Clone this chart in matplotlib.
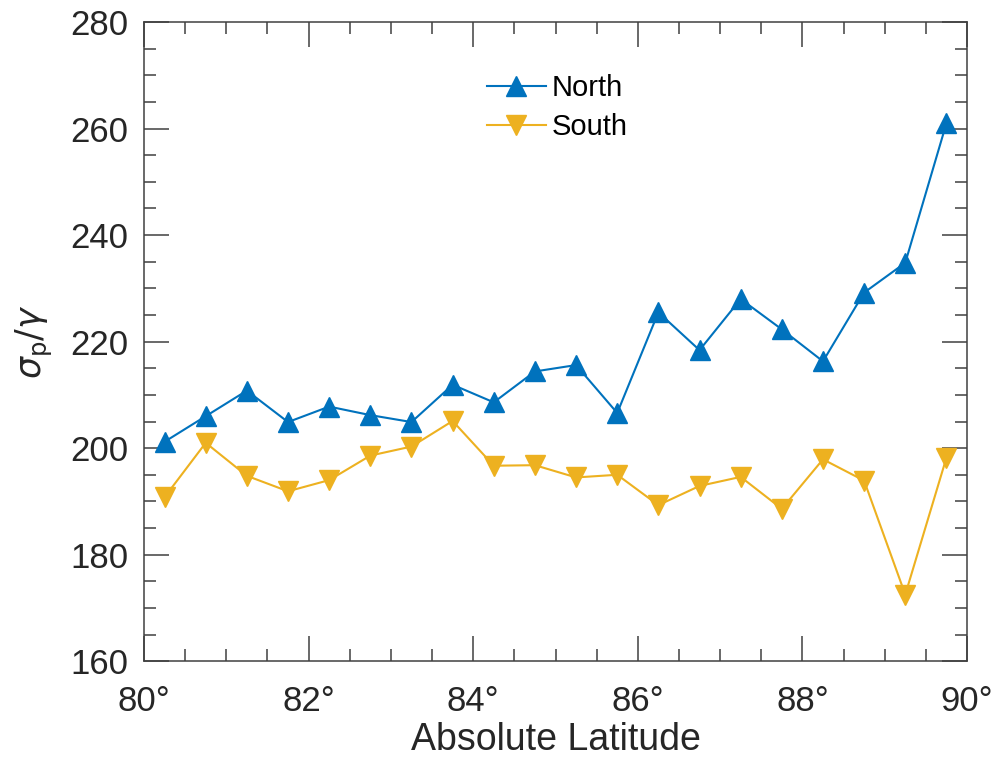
import matplotlib
matplotlib.use("Agg")
import matplotlib.pyplot as plt
from matplotlib.ticker import MultipleLocator, FuncFormatter

# bin centres (absolute latitude, degrees)
latitude = [80.25, 80.75, 81.25, 81.75, 82.25, 82.75, 83.25, 83.75, 84.25, 84.75,
            85.25, 85.75, 86.25, 86.75, 87.25, 87.75, 88.25, 88.75, 89.25, 89.75]

north = [201.2, 206.0, 210.8, 204.9, 207.8, 206.2, 204.9, 211.9, 208.6, 214.4,
         215.6, 206.6, 225.5, 218.4, 228.0, 222.3, 216.3, 229.2, 234.8, 261.0]

south = [190.8, 201.0, 194.8, 191.9, 194.0, 198.6, 200.3, 205.1, 196.7, 196.8,
         194.5, 195.0, 189.3, 192.9, 194.6, 188.6, 197.9, 193.9, 172.5, 198.2]

BLUE = "#0072BD"
YELLOW = "#EDB120"
DARK = "#404040"
TEXT = "#262626"

plt.rcParams["font.family"] = ["Liberation Sans", "DejaVu Sans"]
plt.rcParams["mathtext.fontset"] = "dejavusans"

fig = plt.figure(figsize=(10, 7.6), dpi=100)
ax = fig.add_axes([0.144, 0.130, 0.823, 0.841])

ax.plot(latitude, north, color=BLUE, linewidth=1.5, marker="^",
        markersize=15, label="North")
ax.plot(latitude, south, color=YELLOW, linewidth=1.5, marker="v",
        markersize=15, label="South")

ax.set_xlim(80, 90)
ax.set_ylim(160, 280)
ax.xaxis.set_major_locator(MultipleLocator(2))
ax.xaxis.set_minor_locator(MultipleLocator(0.5))
ax.yaxis.set_major_locator(MultipleLocator(20))
ax.yaxis.set_minor_locator(MultipleLocator(5))
ax.xaxis.set_major_formatter(FuncFormatter(lambda v, _: f"{v:.0f}°"))

ax.tick_params(which="both", direction="in", top=True, right=True,
               color=DARK, width=1.1, labelsize=25, labelcolor=TEXT)
ax.tick_params(which="major", length=18)
ax.tick_params(which="minor", length=8.5)
ax.tick_params(axis="x", which="major", pad=17)
ax.tick_params(axis="y", which="major", pad=11)
for sp in ax.spines.values():
    sp.set_color(DARK)
    sp.set_linewidth(1.1)

ax.set_xlabel("Absolute Latitude", fontsize=27, color=TEXT, labelpad=3)
ax.set_ylabel(r"$\sigma_{\mathrm{p}}/\gamma$", fontsize=25, color=TEXT)
ax.yaxis.set_label_coords(-0.108, 0.5)

ax.legend(loc="upper left", bbox_to_anchor=(0.417, 0.919), frameon=False,
          borderpad=0, borderaxespad=0, fontsize=21, handlelength=2.0,
          handletextpad=0.2, labelspacing=0.4)

fig.savefig("out.png", dpi=100)
